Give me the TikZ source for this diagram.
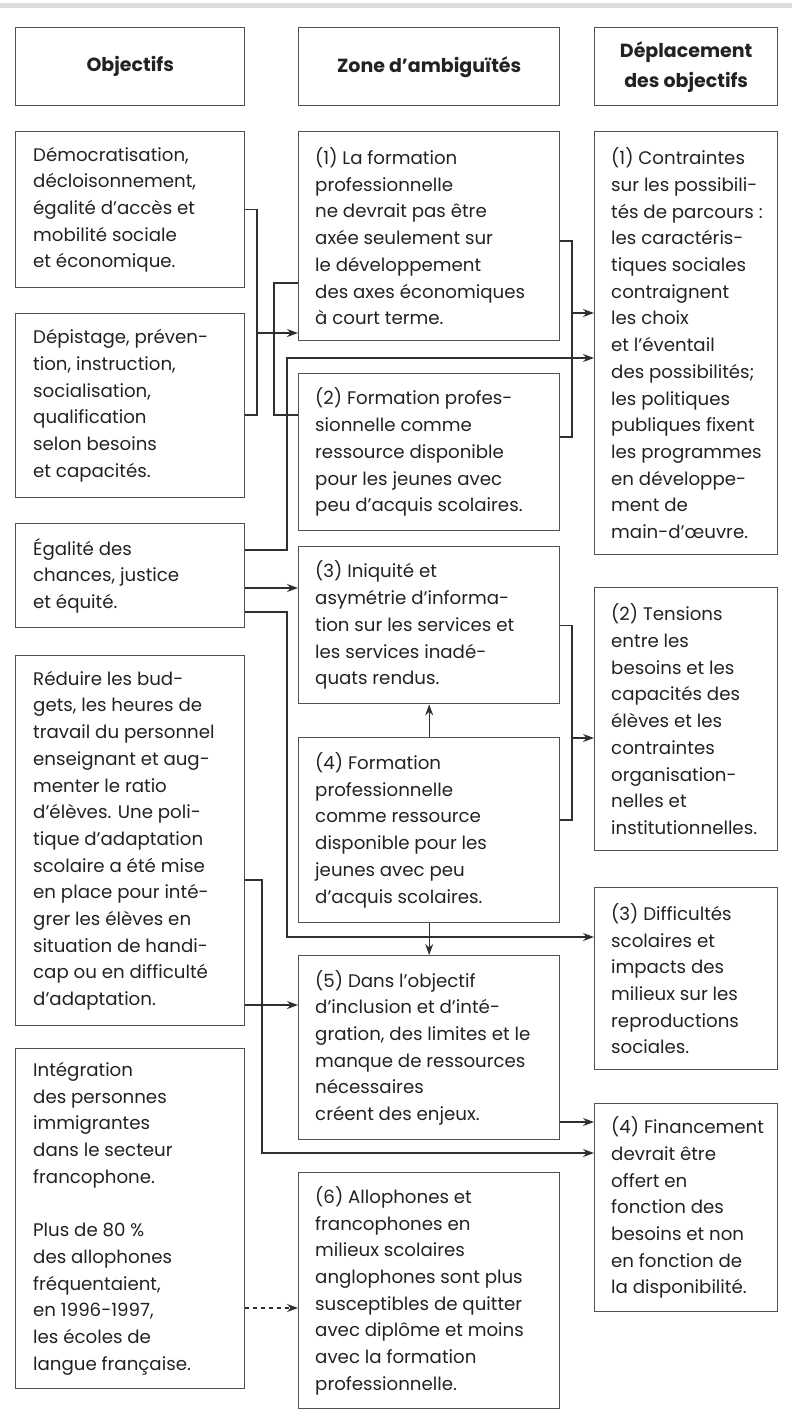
\documentclass[tikz,border=0pt]{standalone}
\usepackage{fontspec}
\setmainfont{Poppins}
\usetikzlibrary{arrows.meta}
\definecolor{boxc}{HTML}{505050}
\definecolor{linec}{HTML}{303030}
\definecolor{txt}{HTML}{222222}
\definecolor{rulec}{HTML}{DCDCDC}
\begin{document}
\begin{tikzpicture}[x=1pt,y=-1pt,
  box/.style={draw=boxc, line width=1.4pt, anchor=north west, inner sep=0pt},
  obox/.style={box, minimum width=229pt},
  zbox/.style={box, minimum width=261pt},
  dbox/.style={box, minimum width=183pt},
  body/.style={anchor=west, align=left, inner sep=0pt, text=txt, font=\fontsize{18.2}{26.7}\selectfont},
  head/.style={align=center, inner sep=0pt, text=txt, font=\fontsize{19}{30}\selectfont\bfseries},
  ln/.style={draw=linec, line width=1.3pt},
  arr/.style={ln, -{Stealth[length=11pt,width=8pt]}},
  dsh/.style={arr, dash pattern=on 4pt off 4pt}]
\useasboundingbox (0,0) rectangle (792,1419);
\fill[rulec] (0,3) rectangle (792,8);

% headers
\node[obox, minimum height=78pt] (h1) at (15,27) {};
\node[head] at (h1.center) {Objectifs};
\node[zbox, minimum height=78pt] (h2) at (298,27) {};
\node[head] at (h2.center) {Zone d’ambiguïtés};
\node[dbox, minimum height=78pt] (h3) at (594,27) {};
\node[head] at (h3.center) {Déplacement\\des objectifs};

% objectifs
\node[obox, minimum height=156pt] (o1) at (15,131) {};
\node[body] at ([xshift=18pt]o1.west) {Démocratisation,\\décloisonnement,\\égalité d’accès et\\mobilité sociale\\et économique.};
\node[obox, minimum height=184pt] (o2) at (15,313) {};
\node[body] at ([xshift=18pt]o2.west) {Dépistage, préven-\\tion, instruction,\\socialisation,\\qualification\\selon besoins\\et capacités.};
\node[obox, minimum height=104pt] (o3) at (15,523) {};
\node[body] at ([xshift=18pt]o3.west) {Égalité des\\chances, justice\\et équité.};
\node[obox, minimum height=370pt] (o4) at (15,655) {};
\node[body] at ([xshift=18pt]o4.west) {Réduire les bud-\\gets, les heures de\\travail du personnel\\enseignant et aug-\\menter le ratio\\d’élèves. Une poli-\\tique d’adaptation\\scolaire a été mise\\en place pour inté-\\grer les élèves en\\situation de handi-\\cap ou en difficulté\\d’adaptation.};
\node[obox, minimum height=340pt] (o5) at (15,1048) {};
\node[body] at ([xshift=18pt]o5.west) {Intégration\\des personnes\\immigrantes\\dans le secteur\\francophone.\\[26.7pt]Plus de 80~\%\\des allophones\\fréquentaient,\\en 1996-1997,\\les écoles de\\langue française.};

% zone
\node[zbox, minimum height=209pt] (z1) at (298,131) {};
\node[body] at ([xshift=17pt]z1.west) {(1) La formation\\professionnelle\\ne devrait pas être\\axée seulement sur\\le développement\\des axes économiques\\à court terme.};
\node[zbox, minimum height=157pt] (z2) at (298,373) {};
\node[body] at ([xshift=17pt]z2.west) {(2) Formation profes-\\sionnelle comme\\ressource disponible\\pour les jeunes avec\\peu d’acquis scolaires.};
\node[zbox, minimum height=157pt] (z3) at (298,546) {};
\node[body] at ([xshift=17pt]z3.west) {(3) Iniquité et\\asymétrie d’informa-\\tion sur les services et\\les services inadé-\\quats rendus.};
\node[zbox, minimum height=185pt] (z4) at (298,737) {};
\node[body] at ([xshift=17pt]z4.west) {(4) Formation\\professionnelle\\comme ressource\\disponible pour les\\jeunes avec peu\\d’acquis scolaires.};
\node[zbox, minimum height=184pt] (z5) at (298,955) {};
\node[body] at ([xshift=17pt]z5.west) {(5) Dans l’objectif\\d’inclusion et d’inté-\\gration, des limites et le\\manque de ressources\\nécessaires\\créent des enjeux.};
\node[zbox, minimum height=236pt] (z6) at (298,1172) {};
\node[body] at ([xshift=17pt]z6.west) {(6) Allophones et\\francophones en\\milieux scolaires\\anglophones sont plus\\susceptibles de quitter\\avec diplôme et moins\\avec la formation\\professionnelle.};

% deplacement
\node[dbox, minimum height=423pt] (d1) at (594,131) {};
\node[body] at ([xshift=17pt]d1.west) {(1) Contraintes\\sur les possibili-\\tés de parcours :\\les caractéris-\\tiques sociales\\contraignent\\les choix\\et l’éventail\\des possibilités;\\les politiques\\publiques fixent\\les programmes\\en développe-\\ment de\\main-d’œuvre.};
\node[dbox, minimum height=263pt] (d2) at (594,587) {};
\node[body] at ([xshift=17pt]d2.west) {(2) Tensions\\entre les\\besoins et les\\capacités des\\élèves et les\\contraintes\\organisation-\\nelles et\\institutionnelles.};
\node[dbox, minimum height=182pt] (d3) at (594,887) {};
\node[body] at ([xshift=17pt]d3.west) {(3) Difficultés\\scolaires et\\impacts des\\milieux sur les\\reproductions\\sociales.};
\node[dbox, minimum height=208pt] (d4) at (594,1103) {};
\node[body] at ([xshift=17pt]d4.west) {(4) Financement\\devrait être\\offert en\\fonction des\\besoins et non\\en fonction de\\la disponibilité.};

% junction coordinates
\coordinate (ja) at (257,333);
\coordinate (jb) at (274,415);
\coordinate (jc) at (287,358);
\coordinate (jd) at (572,313);
\coordinate (je) at (287,937);
\coordinate (jf) at (572,738);
\coordinate (jg) at (262,1153);

% connectors
\draw[ln] (o1.east) -| (ja) |- (o2.east |- 0,415);
\draw[arr] (ja) -- (z1.west |- ja);
\draw[ln] (z1.west |- 0,283) -| (jb) -- (z2.west |- jb);
\draw[arr] (o3.east |- 0,550) -| (jc) -- (d1.west |- jc);
\draw[ln] (z1.east |- 0,241) -| (jd) |- (z2.east |- 0,437);
\draw[arr] (jd) -- (d1.west |- jd);
\draw[arr] (o3.east |- 0,588) -- (z3.west |- 0,588);
\draw[arr] (o3.east |- 0,612) -| (je) -- (d3.west |- je);
\draw[arr] (z4.north) -- (z3.south);
\draw[ln] (z3.east) -| (jf) |- (z4.east |- 0,820);
\draw[arr] (jf) -- (d2.west |- jf);
\draw[arr] (z4.south) -- (z5.north);
\draw[arr] (o4.east |- 0,880) -| (jg) -- (d4.west |- jg);
\draw[arr] (o4.east |- 0,1005) -- (z5.west |- 0,1005);
\draw[arr] (z5.east |- 0,1122) -- (d4.west |- 0,1122);
\draw[dsh] (o5.east |- 0,1308) -- (z6.west |- 0,1308);
\end{tikzpicture}
\end{document}
